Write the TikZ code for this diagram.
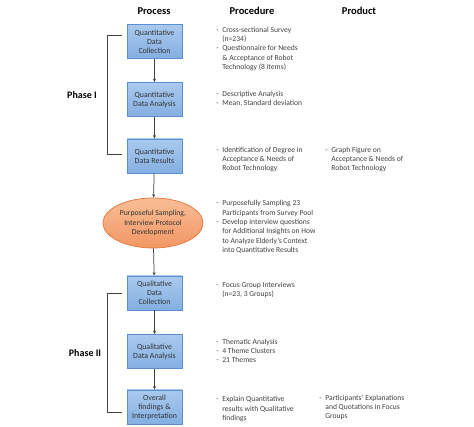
\documentclass[tikz,border=0pt]{standalone}
\usepackage{fontspec}
\setmainfont{Carlito}
\usetikzlibrary{shapes.geometric,arrows.meta}
\definecolor{boxtop}{RGB}{170,202,238}
\definecolor{boxbot}{RGB}{132,175,226}
\definecolor{boxline}{RGB}{91,143,208}
\definecolor{elltop}{RGB}{248,190,150}
\definecolor{ellbot}{RGB}{242,150,100}
\definecolor{ellline}{RGB}{230,120,60}
\definecolor{linegray}{RGB}{64,64,64}
\newcommand{\dsh}{\makebox[6pt][l]{-}}
\newcommand{\ind}{\hspace*{6pt}}
\tikzset{every picture/.style={line width=0.75pt}}
\tikzset{
  procbox/.style={draw=boxline, top color=boxtop, bottom color=boxbot, minimum width=55, minimum height=34, inner sep=1pt, align=center, font=\fontsize{7.9}{9}\selectfont, text=black!80},
  procell/.style={ellipse, draw=ellline, top color=elltop, bottom color=ellbot, minimum width=100, minimum height=50, inner sep=0pt, align=center, font=\fontsize{7.7}{9.3}\selectfont, text=black!80},
  head/.style={font=\fontsize{10.5}{12}\selectfont\bfseries, inner sep=0pt},
  phase/.style={font=\fontsize{10}{12}\selectfont\bfseries, inner sep=0pt},
  note/.style={anchor=base west, inner sep=0pt, align=left, font=\fontsize{7.6}{9.3}\selectfont, text=black!75},
  flow/.style={draw=linegray, -{Stealth[length=3.5pt,width=3pt]}},
  brace/.style={draw=linegray, line width=1pt}
}
\begin{document}
\begin{tikzpicture}[x=1pt,y=1pt,yscale=-1,xscale=1]
\useasboundingbox (0,0) rectangle (474,427);

% Column heads
\node [head] (hproc) at (154,11) {Process};
\node [head] (hprocd) at (252,11) {Procedure};
\node [head] (hprod) at (359,11) {Product};

%Shape: Rectangle / Ellipse
\node [procbox] (qncoll) at (154.5,41.5) {Quantitative\\Data\\Collection};
\node [procbox] (qnana) at (154.5,99.5) {Quantitative\\Data Analysis};
\node [procbox] (qnres) at (154.5,156) {Quantitative\\Data Results};
\node [procell] (sampl) at (153,223) {Purposeful Sampling,\\Interview Protocol\\Development};
\node [procbox] (qlcoll) at (154.5,293) {Qualitative\\Data\\Collection};
\node [procbox] (qlana) at (154.5,351.5) {Qualitative\\Data Analysis};
\node [procbox] (overall) at (154.5,407) {Overall\\findings \&\\Interpretation};

%Straight Lines
\draw [flow] (qncoll) -- (qnana);
\draw [flow] (qnana) -- (qnres);
\draw [flow] (qnres) -- (sampl);
\draw [flow] (sampl) -- (qlcoll);
\draw [flow] (qlcoll) -- (qlana);
\draw [flow] (qlana) -- (overall);

% Phase brackets
\coordinate (ph1a) at (122,36);
\coordinate (ph1b) at (122,155);
\coordinate (ph2a) at (122,294);
\coordinate (ph2b) at (122,413);
\draw [brace] (ph1a) -- ++(-15,0) |- (ph1b);
\draw [brace] (ph2a) -- ++(-15,0) |- (ph2b);
\node [phase] (ph1) at (82,95) {Phase I};
\node [phase] (ph2) at (85,353) {Phase II};

% Text Node (procedure), placed at the baseline of the last line
\node [note] (pr1) at (216,69.5) {\dsh Cross-sectional Survey\\\ind(n=234)\\\dsh Questionnaire for Needs\\\ind\& Acceptance of Robot\\\ind Technology (8 items)};
\node [note] (pr2) at (216,105.5) {\dsh Descriptive Analysis\\\dsh Mean, Standard deviation};
\node [note] (pr3) at (216,170.8) {\dsh Identification of Degree in\\\ind Acceptance \& Needs of\\\ind Robot Technology};
\node [note] (pr4) at (216,252.5) {\dsh Purposefully Sampling 23\\\ind Participants from Survey Pool\\\dsh Develop interview questions\\\ind for Additional Insights on How\\\ind to Analyze Elderly's Context\\\ind into Quantitative Results};
\node [note] (pr5) at (216,296.8) {\dsh Focus Group Interviews\\\ind(n=23, 3 Groups)};
\node [note] (pr6) at (216,363) {\dsh Thematic Analysis\\\dsh 4 Theme Clusters\\\dsh 21 Themes};
\node [note] (pr7) at (216,420.5) {\dsh Explain Quantitative\\\ind results with Qualitative\\\ind findings};

% Text Node (product)
\node [note] (pd1) at (325,170.8) {\dsh Graph Figure on\\\ind Acceptance \& Needs of\\\ind Robot Technology};
\node [note] (pd2) at (319,419) {\dsh Participants' Explanations\\\ind and Quotations in Focus\\\ind Groups};

\end{tikzpicture}
\end{document}
